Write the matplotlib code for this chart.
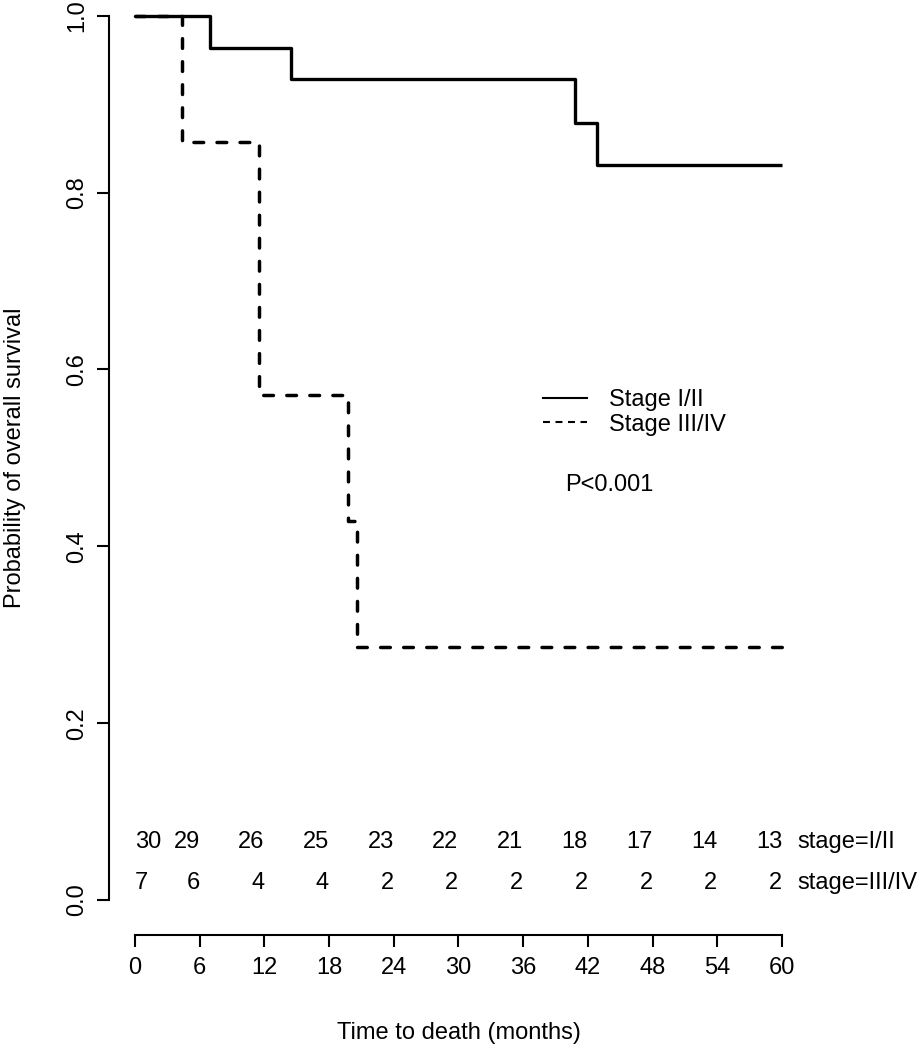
#!/usr/bin/env python3
"""Kaplan-Meier overall survival by stage, drawn in base-R style."""
import matplotlib
matplotlib.use("Agg")
import matplotlib.pyplot as plt
from matplotlib.lines import Line2D

plt.rcParams["font.family"] = ["Liberation Sans", "DejaVu Sans"]
plt.rcParams["lines.scale_dashes"] = False

# Survival steps (months, probability)
stage12_time = [0, 7.0, 14.5, 40.8, 42.8, 60]
stage12_surv = [1.0, 0.964, 0.928, 0.879, 0.831, 0.831]
stage34_time = [0, 4.4, 11.5, 19.8, 20.6, 60]
stage34_surv = [1.0, 0.857, 0.571, 0.429, 0.286, 0.286]

# Numbers at risk
risk_times = [0, 6, 12, 18, 24, 30, 36, 42, 48, 54, 60]
risk_stage12 = [30, 29, 26, 25, 23, 22, 21, 18, 17, 14, 13]
risk_stage34 = [7, 6, 4, 4, 2, 2, 2, 2, 2, 2, 2]
risk_labels = ["stage=I/II", "stage=III/IV"]

legend_labels = ["Stage I/II", "Stage III/IV"]
p_text = "P<0.001"

FS = 17

fig = plt.figure(figsize=(9.19, 10.5), dpi=100)
# plot region mimics R: 4% padding on each axis, top cropped above the figure
ax = fig.add_axes([0.1187, 0.1091, 0.7604, 0.9096])
ax.set_xlim(-2.4, 62.4)
ax.set_ylim(-0.04, 1.04)

ax.step(stage12_time, stage12_surv, where="post", color="black", lw=2.4,
        solid_capstyle="butt")
ax.step(stage34_time, stage34_surv, where="post", color="black", lw=2.5,
        dashes=(7.0, 9.6), dash_capstyle="round")

# numbers at risk inside the plot
row_y = [0.066, 0.019]
for y, counts, lab in zip(row_y, [risk_stage12, risk_stage34], risk_labels):
    for i, (t, n) in enumerate(zip(risk_times, counts)):
        ax.text(t, y, str(n), ha="left" if i == 0 else "right", va="center",
                fontsize=FS)
    ax.text(61.45, y, lab, ha="left", va="center", fontsize=FS, clip_on=False)

handles = [
    Line2D([], [], color="black", lw=1.5),
    Line2D([], [], color="black", lw=1.5, dashes=(5, 4)),
]
ax.legend(handles, legend_labels, loc="center left",
          bbox_to_anchor=(37.8, 0.5515), bbox_transform=ax.transData,
          frameon=False, fontsize=FS, handlelength=1.9, handletextpad=0.93,
          labelspacing=0.1, borderpad=0, borderaxespad=0)
ax.text(44.0, 0.469, p_text, ha="center", va="center", fontsize=FS)

# detached R-style axes
for side in ["top", "right"]:
    ax.spines[side].set_visible(False)
ax.spines["left"].set_bounds(0, 1)
ax.spines["bottom"].set_bounds(0, 60)
ax.spines["left"].set_linewidth(1.5)
ax.spines["bottom"].set_linewidth(1.5)

ax.set_xticks(risk_times)
ax.set_yticks([0, 0.2, 0.4, 0.6, 0.8, 1.0])
ax.set_yticklabels(["0.0", "0.2", "0.4", "0.6", "0.8", "1.0"])
ax.tick_params(axis="both", direction="out", length=8.6, width=1.5,
               labelsize=FS)
ax.tick_params(axis="x", pad=7.2)
ax.tick_params(axis="y", pad=6.5)
for lbl in ax.get_yticklabels():
    lbl.set_rotation(90)
    lbl.set_va("center")

ax.set_xlabel("Time to death (months)", fontsize=FS, labelpad=31)
ax.set_ylabel("Probability of overall survival", fontsize=FS, labelpad=29)

fig.savefig("out.png", dpi=100)
